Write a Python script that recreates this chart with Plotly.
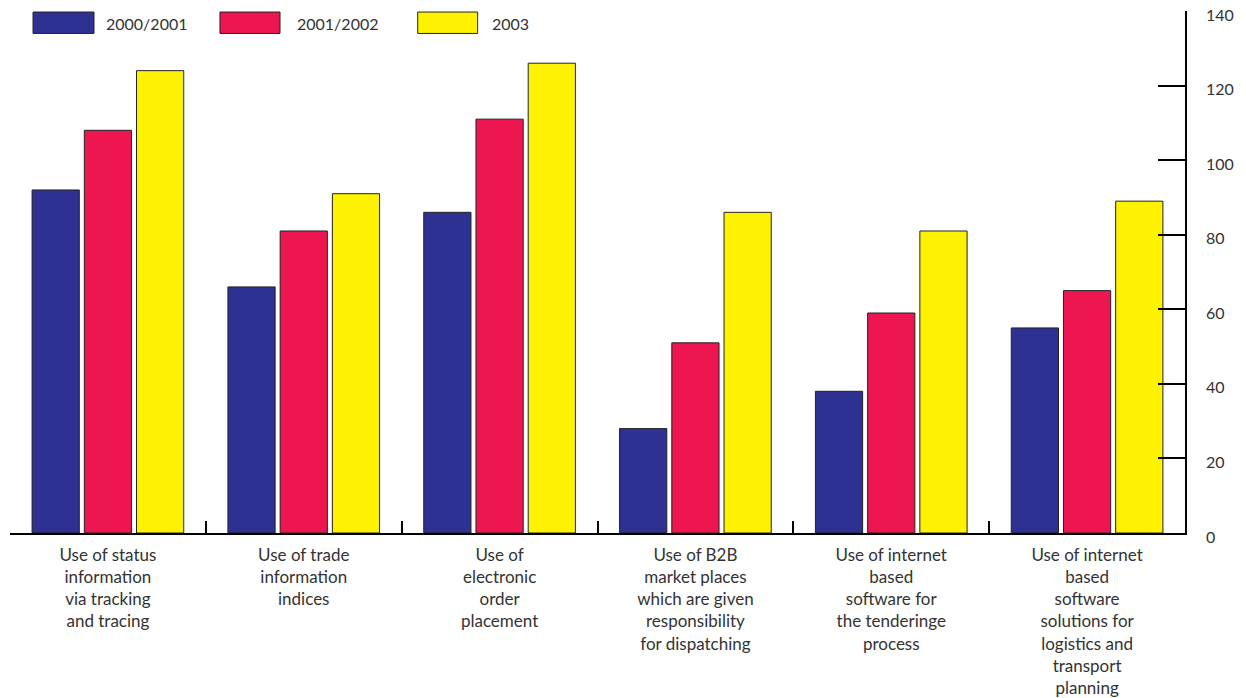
import plotly.graph_objects as go

categories = [
    "Use of status<br>information<br>via tracking<br>and tracing",
    "Use of trade<br>information<br>indices",
    "Use of<br>electronic<br>order<br>placement",
    "Use of B2B<br>market places<br>which are given<br>responsibility<br>for dispatching",
    "Use of internet<br>based<br>software for<br>the tenderinge<br>process",
    "Use of internet<br>based<br>software<br>solutions for<br>logistics and<br>transport<br>planning",
]
series_names = ["2000/2001", "2001/2002", "2003"]
values_2000_2001 = [92, 66, 86, 28, 38, 55]
values_2001_2002 = [108, 81, 111, 51, 59, 65]
values_2003 = [124, 91, 126, 86, 81, 89]
series_values = [values_2000_2001, values_2001_2002, values_2003]
colors = ["#2e3192", "#ed1651", "#fff200"]
y_ticks = [0, 20, 40, 60, 80, 100, 120, 140]

FONT = "Lato, 'Open Sans', sans-serif"
TXT = "#333333"

fig = go.Figure()
for name, vals, col in zip(series_names, series_values, colors):
    fig.add_trace(go.Bar(
        x=categories, y=vals, name=name,
        marker=dict(color=col, line=dict(color="#222222", width=1)),
        showlegend=False,
    ))

# custom legend (large swatches) in paper coordinates
legend_x = [(0.0196, 0.0715, 0.080), (0.1787, 0.2298, 0.2426), (0.347, 0.398, 0.4085)]
for (x0, x1, xt), name, col in zip(legend_x, series_names, colors):
    fig.add_shape(type="rect", xref="paper", yref="paper",
                  x0=x0, x1=x1, y0=0.957, y1=0.998,
                  fillcolor=col, line=dict(color="#222222", width=1))
    fig.add_annotation(xref="paper", yref="paper", x=xt, y=0.977,
                       text=name, showarrow=False, xanchor="left", yanchor="middle",
                       font=dict(family=FONT, size=16, color=TXT))

fig.update_layout(
    width=1246, height=698,
    margin=dict(l=10, r=61, t=11, b=165, autoexpand=False),
    paper_bgcolor="white", plot_bgcolor="white",
    barmode="group", bargap=0.2, bargroupgap=0.096,
    font=dict(family=FONT, size=17, color=TXT),
)
fig.update_xaxes(
    type="category", tickson="boundaries", ticks="inside", ticklen=12,
    tickcolor="black", tickwidth=1.5,
    showline=True, linecolor="black", linewidth=1.5,
    showgrid=False, zeroline=False, automargin=False,
    tickfont=dict(family=FONT, size=17, color=TXT),
    ticklabelstandoff=6,
)
fig.update_yaxes(
    side="right", range=[0, 140], tickvals=y_ticks,
    ticks="inside", ticklen=27, tickcolor="black", tickwidth=1.5,
    showline=True, linecolor="black", linewidth=1.5,
    showgrid=False, zeroline=False, automargin=False,
    tickfont=dict(family=FONT, size=16, color=TXT),
    ticklabelstandoff=16, ticklabelshift=4,
)

fig.write_html("out.html")
